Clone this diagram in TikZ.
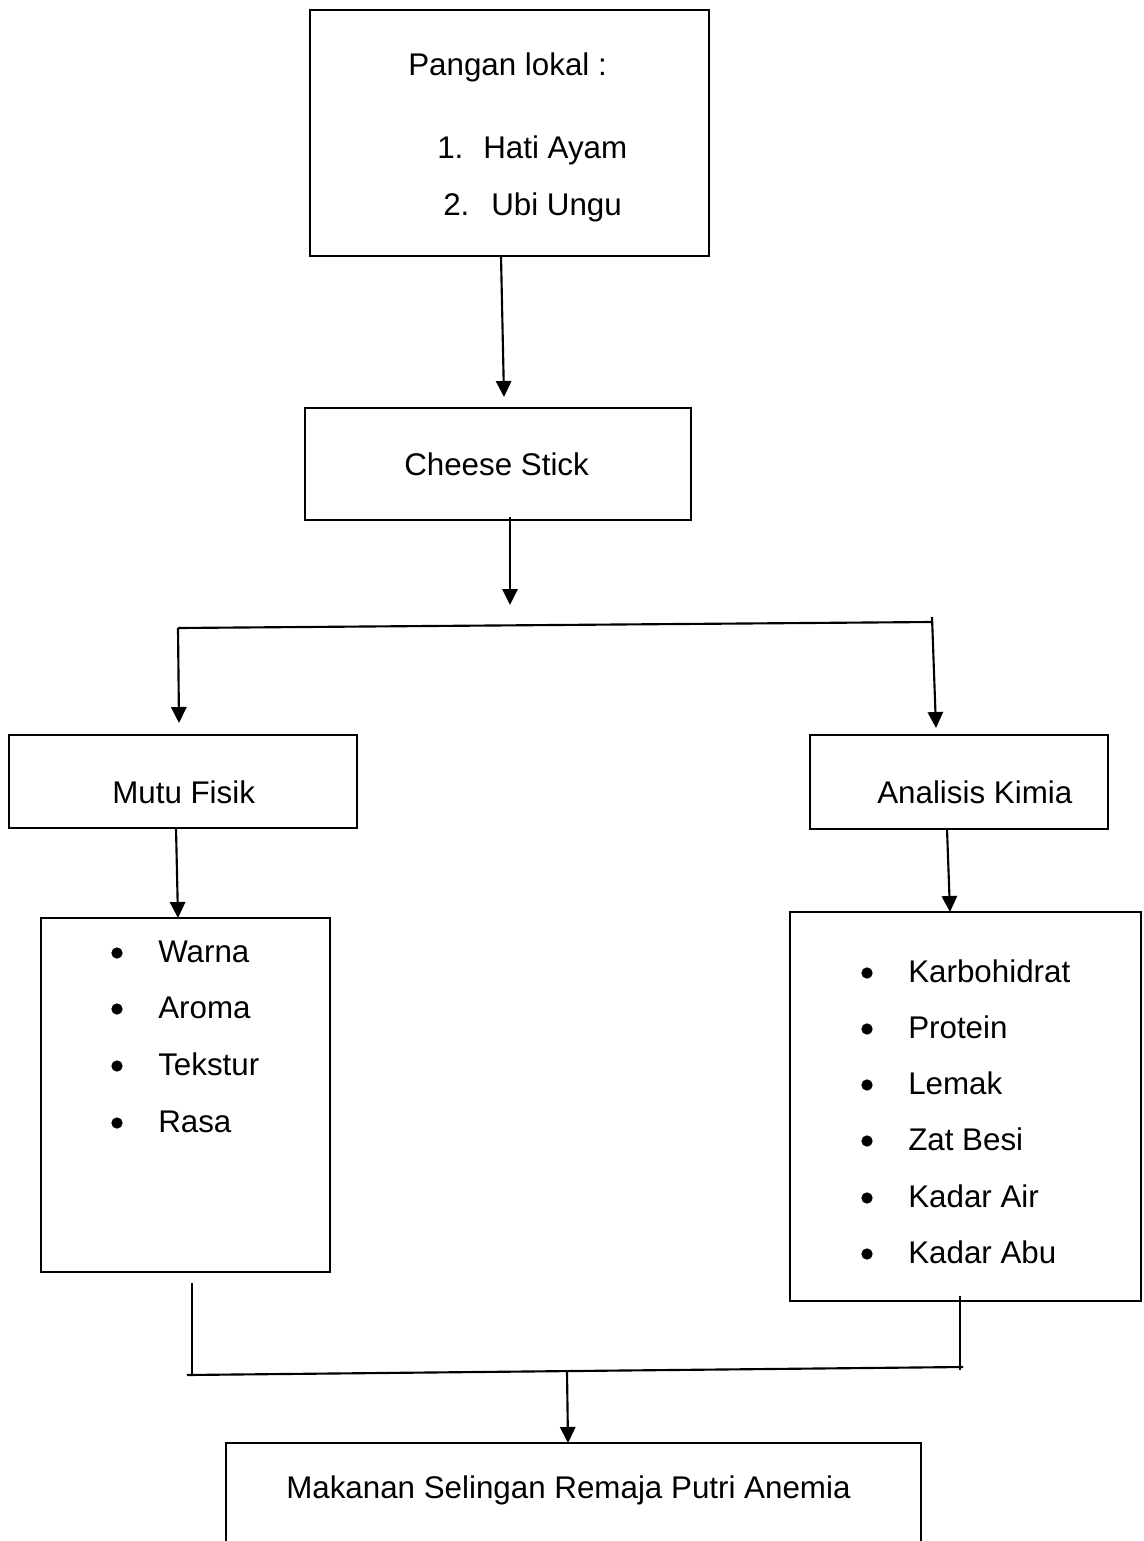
\documentclass[tikz,border=0pt]{standalone}
\usepackage{fontspec}
\setmainfont{Liberation Sans}
\usetikzlibrary{arrows.meta}
\begin{document}
\begin{tikzpicture}[x=0.75pt,y=-0.75pt,
  boxnode/.style={draw, line width=1.6pt, inner sep=0pt, outer sep=0pt},
  boxsize/.style args={#1 by #2}{minimum width=#1*0.75pt, minimum height=#2*0.75pt},
  lbl/.style={anchor=base west, inner sep=0pt, font=\fontsize{23.5pt}{28pt}\selectfont},
  conn/.style={line width=1.6pt},
  arr/.style={conn, -{Triangle[width=11.5pt,length=12pt]}},
  dotnode/.style={circle, fill, inner sep=0pt, minimum size=8.5pt}]
\useasboundingbox (0,0) rectangle (1143,1541);
\clip (0,0) rectangle (1143,1541);
\fill[white] (0,0) rectangle (1143,1541);

% boxes
\node[boxnode, boxsize=399 by 246] (b1) at (509.5,133) {};
\node[boxnode, boxsize=386 by 112] (b2) at (498,464) {};
\node[boxnode, boxsize=348 by 93] (mutu) at (183,781.5) {};
\node[boxnode, boxsize=298 by 94] (kimia) at (959,782) {};
\node[boxnode, boxsize=289 by 354] (list1) at (185.5,1095) {};
\node[boxnode, boxsize=351 by 389] (list2) at (965.5,1106.5) {};
\node[boxnode, boxsize=695 by 157] (final) at (573.5,1521.5) {};

% texts
\node[lbl] (t0) at (408,76) {Pangan lokal :};
\node[lbl] (n1) at (437,159) {1.};
\node[lbl] (t1) at (483,159) {Hati Ayam};
\node[lbl] (n2) at (443,215) {2.};
\node[lbl] (t2) at (491,215) {Ubi Ungu};
\node[lbl] (tcs) at (404,475) {Cheese Stick};
\node[lbl] (tmf) at (112,803) {Mutu Fisik};
\node[lbl] (tak) at (877,803) {Analisis Kimia};
\node[lbl] (tfin) at (286,1498) {Makanan Selingan Remaja Putri Anemia};

\foreach \t/\yy [count=\i] in {Warna/962, Aroma/1018, Tekstur/1075, Rasa/1132}{
  \node[lbl] (la\i) at (158,\yy) {\t};
  \node[dotnode] (da\i) at (117,\yy-9) {};
}
\foreach \t/\yy [count=\i] in {Karbohidrat/982, Protein/1038, Lemak/1094, Zat Besi/1150, Kadar Air/1207, Kadar Abu/1263}{
  \node[lbl] (lb\i) at (908,\yy) {\t};
  \node[dotnode] (db\i) at (867,\yy-9) {};
}

% connector points
\coordinate (s1) at (501,256);
\coordinate (e1) at (504,397);
\coordinate (s2) at (510,517);
\coordinate (e2) at (510,605);
\coordinate (hl) at (178,628);
\coordinate (hr) at (932,622);
\coordinate (hrt) at (932,617);
\coordinate (el) at (179,723);
\coordinate (er) at (936,728);
\coordinate (s3) at (176,828);
\coordinate (e3) at (178,918);
\coordinate (s4) at (947,829);
\coordinate (e4) at (950,912);
\coordinate (s5) at (192,1283);
\coordinate (e5) at (192,1375);
\coordinate (s6) at (960,1296);
\coordinate (e6) at (960,1370);
\coordinate (bl) at (187,1375);
\coordinate (br) at (963,1367);
\coordinate (s7) at (567,1372);
\coordinate (e7) at (568,1443);

\draw[arr] (s1) -- (e1);
\draw[arr] (s2) -- (e2);
\draw[conn] (hl) -- (hr);
\draw[arr] (hl) -- (el);
\draw[arr] (hrt) -- (er);
\draw[arr] (s3) -- (e3);
\draw[arr] (s4) -- (e4);
\draw[conn] (s5) -- (e5);
\draw[conn] (s6) -- (e6);
\draw[conn] (bl) -- (br);
\draw[arr] (s7) -- (e7);
\end{tikzpicture}
\end{document}
